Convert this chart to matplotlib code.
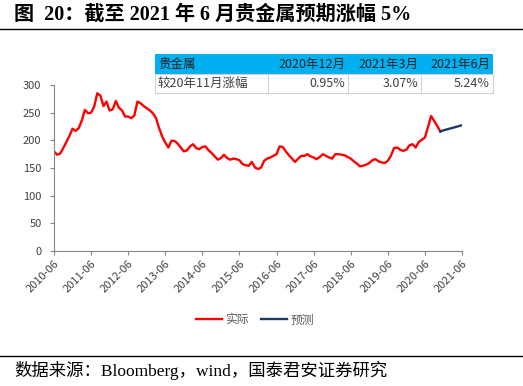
import matplotlib
matplotlib.use("Agg")
import matplotlib.pyplot as plt
from matplotlib.patches import Rectangle
from matplotlib.lines import Line2D

plt.rcParams['font.family'] = ['Noto Sans CJK SC', 'DejaVu Sans']

# ---- data ----
actual = [180, 174, 176, 186, 197, 208, 221, 217, 222, 236, 255, 249,
          250, 261, 285, 281, 262, 270, 254, 256, 271, 259, 254, 243,
          243, 240, 245, 270, 267, 262, 258, 254, 249, 240, 222, 207,
          196, 187, 199, 199, 194, 187, 180, 182, 189, 193, 186, 184,
          188, 189, 182, 177, 171, 165, 168, 174, 168, 165, 167, 166,
          164, 157, 155, 154, 161, 151, 148, 151, 163, 167, 169, 172,
          175, 189, 188, 180, 173, 167, 161, 167, 172, 172, 175, 171,
          169, 166, 170, 175, 172, 169, 167, 175, 175, 174, 173, 170,
          167, 162, 158, 153, 154, 156, 159, 164, 166, 162, 160, 159,
          163, 172, 186, 187, 183, 181, 183, 191, 193, 187, 197, 201,
          205, 224, 244, 235, 226, 216]
actual_months = list(range(len(actual)))          # months since 2010-06
forecast_months = [125, 126, 129, 132]            # 2020-11, 2020-12, 2021-03, 2021-06
forecast = [216.0, 218.1, 222.6, 227.3]

tick_months = list(range(0, 133, 12))
tick_labels = ['2010-06', '2011-06', '2012-06', '2013-06', '2014-06', '2015-06',
               '2016-06', '2017-06', '2018-06', '2019-06', '2020-06', '2021-06']
y_ticks = [0, 50, 100, 150, 200, 250, 300]

table_header = ['贵金属', '2020年12月', '2021年3月', '2021年6月']
table_row_label = '较20年11月涨幅'
table_values = ['0.95%', '3.07%', '5.24%']

series_names = ['实际', '预测']

W, H = 523, 386
fig = plt.figure(figsize=(W / 100, H / 100), dpi=100)

def fx(px):
    return px / W

def fy(py):
    return 1 - py / H

ax = fig.add_axes([fx(54), fy(251), fx(462) - fx(54), fy(85) - fy(251)])
ax.plot(actual_months, actual, color='#FF0000', lw=1.7, label=series_names[0])
ax.plot(forecast_months, forecast, color='#1F3864', lw=1.7, label=series_names[1])
ax.set_xlim(0, 132)
ax.set_ylim(0, 300)
ax.set_xticks(tick_months)
ax.set_xticklabels(tick_labels, rotation=45, ha='right', rotation_mode='anchor')
ax.set_yticks(y_ticks)
for s in ['top', 'right']:
    ax.spines[s].set_visible(False)
for s in ['left', 'bottom']:
    ax.spines[s].set_color('#868686')
    ax.spines[s].set_linewidth(0.8)
ax.tick_params(axis='both', colors='#868686', labelcolor='#404040', labelsize=8,
               length=3, width=0.8, direction='out')
ax.tick_params(axis='y', pad=6)
ax.tick_params(axis='x', pad=2)

# legend
leg = fig.legend(handles=[Line2D([], [], color='#FF0000', lw=1.7),
                          Line2D([], [], color='#1F3864', lw=1.7)],
                 labels=series_names, loc='center', bbox_to_anchor=(fx(255), fy(320)),
                 ncol=2, frameon=False, fontsize=8.5, handlelength=2.2,
                 columnspacing=1.0, handletextpad=0.3)
for t in leg.get_texts():
    t.set_color('#595959')

# table
cols = [155, 268, 348, 421, 493]
rows = [54, 74, 93]
fig.patches.append(Rectangle((fx(cols[0]), fy(rows[1])), fx(cols[-1]) - fx(cols[0]),
                             fy(rows[0]) - fy(rows[1]), transform=fig.transFigure,
                             facecolor='#00B0F0', edgecolor='none', zorder=1))
fig.patches.append(Rectangle((fx(cols[0]), fy(rows[2])), fx(cols[-1]) - fx(cols[0]),
                             fy(rows[1]) - fy(rows[2]), transform=fig.transFigure,
                             facecolor='white', edgecolor='#D0D0D0', lw=0.8, zorder=1))
for c in cols[1:-1]:
    fig.add_artist(Line2D([fx(c), fx(c)], [fy(rows[1]), fy(rows[2])], color='#D0D0D0', lw=0.8))
tfs = 9
ymid0 = fy((rows[0] + rows[1]) / 2)
ymid1 = fy((rows[1] + rows[2]) / 2)
fig.text(fx(cols[0] + 3), ymid0, table_header[0], fontsize=tfs, va='center', ha='left', color='#222222')
fig.text(fx(cols[0] + 3), ymid1, table_row_label, fontsize=tfs, va='center', ha='left', color='#404040')
for i in range(3):
    fig.text(fx(cols[i + 2] - 3), ymid0, table_header[i + 1], fontsize=tfs, va='center', ha='right', color='#222222')
    fig.text(fx(cols[i + 2] - 3), ymid1, table_values[i], fontsize=tfs, va='center', ha='right', color='#404040')

# title and footer
serif = ['Liberation Serif', 'Noto Sans CJK SC']
fig.text(fx(14), fy(15), '图  20：截至 2021 年 6 月贵金属预期涨幅 5%', fontsize=14.5,
         fontweight='bold', family=serif, va='center', ha='left')
fig.add_artist(Line2D([0, 1], [fy(29), fy(29)], color='black', lw=1.0))
fig.add_artist(Line2D([0, 1], [fy(356), fy(356)], color='black', lw=1.0))
fig.text(fx(14), fy(371), '数据来源：Bloomberg，wind，国泰君安证券研究', fontsize=12.5,
         family=serif, va='center', ha='left')

fig.savefig('out.png', dpi=100)
